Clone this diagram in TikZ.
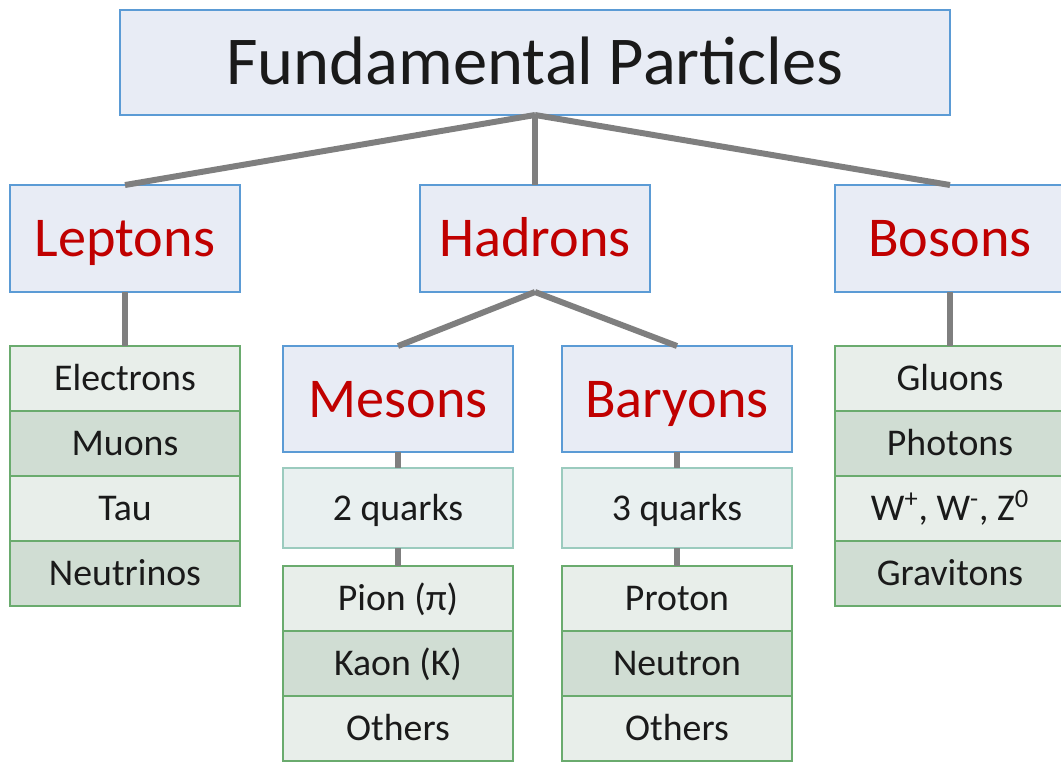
\documentclass[tikz,border=0pt]{standalone}
\usepackage{fontspec}
\setmainfont{Carlito}
\usetikzlibrary{positioning}
\definecolor{boxblue}{HTML}{E8ECF5}
\definecolor{edgeblue}{HTML}{5B9BD5}
\definecolor{catred}{HTML}{C00000}
\definecolor{rowlight}{HTML}{E8EEEA}
\definecolor{rowdark}{HTML}{D0DDD3}
\definecolor{edgegreen}{HTML}{6AAB6E}
\definecolor{quarkfill}{HTML}{E9F0F0}
\definecolor{edgeteal}{HTML}{9BCBBE}
\definecolor{linkgray}{HTML}{7F7F7F}
\definecolor{inkgray}{HTML}{1A1A1A}

\tikzset{
  headbox/.style={draw=edgeblue,fill=boxblue,line width=0.9pt,inner sep=0pt,outer sep=0pt},
  titlebox/.style={headbox,minimum width=16.6cm,minimum height=2.1cm,text=inkgray,
    text height=25pt,text depth=0pt,font=\fontsize{39}{44}\selectfont},
  catbox/.style={headbox,minimum width=4.6cm,minimum height=2.14cm,text=catred,
    text height=20.5pt,text depth=0pt,font=\fontsize{32}{36}\selectfont},
  rowbox/.style={draw=edgegreen,line width=0.9pt,inner sep=0pt,outer sep=0pt,text=inkgray,
    minimum width=4.6cm,minimum height=1.3cm,text height=14pt,text depth=0pt,
    font=\fontsize{21.5}{25}\selectfont},
  rowlt/.style={rowbox,fill=rowlight},
  rowdk/.style={rowbox,fill=rowdark},
  quarkbox/.style={rowbox,draw=edgeteal,fill=quarkfill,minimum height=1.6cm},
  link/.style={draw=linkgray,line width=3.4pt}
}

\begin{document}
\begin{tikzpicture}[x=0.02cm,y=-0.02cm,node distance=0pt]
\useasboundingbox (0,0) rectangle (1061,761);
\clip (0,0) rectangle (1061,761);

% top level
\node[titlebox] (fp) at (535,62.5) {Fundamental Particles};

% families
\node[catbox] (lep) at (125,238.5) {Leptons};
\node[catbox] (had) at (535,238.5) {Hadrons};
\node[catbox] (bos) at (950,238.5) {Bosons};
\node[catbox,minimum height=2.12cm] (mes) at (398,399) {Mesons};
\node[catbox,minimum height=2.12cm] (bar) at (677,399) {Baryons};

% quark content
\node[quarkbox] (q2) at (398,508) {2 quarks};
\node[quarkbox] (q3) at (677,508) {3 quarks};

% lepton list
\node[rowlt] (lep1) at (125,378.5) {Electrons};
\node[rowdk] (lep2) [below=of lep1] {Muons};
\node[rowlt] (lep3) [below=of lep2] {Tau};
\node[rowdk] (lep4) [below=of lep3] {Neutrinos};

% boson list
\node[rowlt] (bos1) at (950,378.5) {Gluons};
\node[rowdk] (bos2) [below=of bos1] {Photons};
\node[rowlt] (bos3) [below=of bos2] {W\textsuperscript{+}, W\textsuperscript{-}, Z\textsuperscript{0}};
\node[rowdk] (bos4) [below=of bos3] {Gravitons};

% meson list
\node[rowlt] (mes1) at (398,598.5) {Pion (π)};
\node[rowdk] (mes2) [below=of mes1] {Kaon (K)};
\node[rowlt] (mes3) [below=of mes2] {Others};

% baryon list
\node[rowlt] (bar1) at (677,598.5) {Proton};
\node[rowdk] (bar2) [below=of bar1] {Neutron};
\node[rowlt] (bar3) [below=of bar2] {Others};

% connectors
\draw[link] (fp.south) -- (lep.north);
\draw[link] (fp.south) -- (had.north);
\draw[link] (fp.south) -- (bos.north);
\draw[link] (had.south) -- (mes.north);
\draw[link] (had.south) -- (bar.north);
\draw[link] (lep.south) -- (lep1.north);
\draw[link] (bos.south) -- (bos1.north);
\draw[link] (mes.south) -- (q2.north);
\draw[link] (bar.south) -- (q3.north);
\draw[link] (q2.south) -- (mes1.north);
\draw[link] (q3.south) -- (bar1.north);
\end{tikzpicture}
\end{document}
